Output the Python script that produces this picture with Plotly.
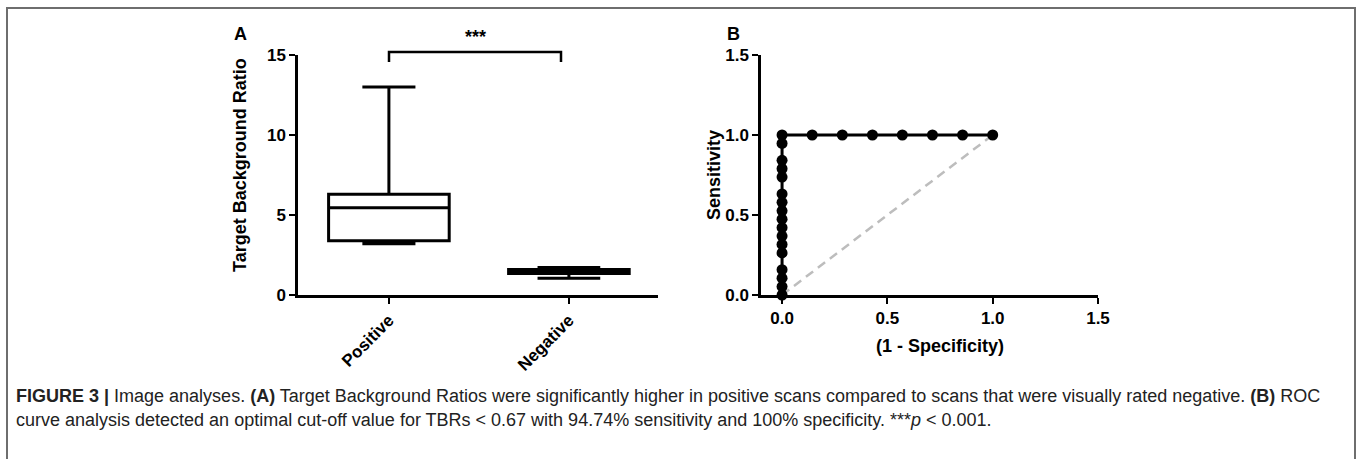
import plotly.graph_objects as go

# ---- data ----
groups = ["Positive", "Negative"]
q1 = [3.39, 1.34]
medians = [5.45, 1.45]
q3 = [6.3, 1.59]
lower_fence = [3.2, 1.04]
upper_fence = [13.0, 1.72]
whisker_widths = [0.44, 0.52]

roc_fpr = [0.0] * 17 + [0.143, 0.286, 0.429, 0.571, 0.714, 0.857, 1.0]
roc_tpr = [0.0, 0.053, 0.105, 0.158, 0.263, 0.316, 0.368, 0.421, 0.474, 0.526,
           0.579, 0.632, 0.737, 0.789, 0.842, 0.947, 1.0] + [1.0] * 7
ref_x = [0.0, 1.0]
ref_y = [0.0, 1.0]

yticks_a = [0, 5, 10, 15]
ticks_b = [0.0, 0.5, 1.0, 1.5]

W, H = 1357, 459
def px(x): return x / W
def py(y): return 1 - y / H

FONT = "Liberation Sans, Arial, sans-serif"

fig = go.Figure()
for i, g in enumerate(groups):
    fig.add_trace(go.Box(
        x=[g], q1=[q1[i]], median=[medians[i]], q3=[q3[i]],
        lowerfence=[lower_fence[i]], upperfence=[upper_fence[i]],
        width=0.67, whiskerwidth=whisker_widths[i],
        line=dict(color="black", width=3), fillcolor="white",
        boxpoints=False, showlegend=False, xaxis="x", yaxis="y"))

fig.add_trace(go.Scatter(x=ref_x, y=ref_y, mode="lines",
                         line=dict(color="#bdbdbd", width=2.5, dash="9px,6px"),
                         showlegend=False, xaxis="x2", yaxis="y2"))
fig.add_trace(go.Scatter(x=roc_fpr, y=roc_tpr, mode="lines+markers",
                         line=dict(color="black", width=3),
                         marker=dict(color="black", size=11),
                         cliponaxis=False, showlegend=False, xaxis="x2", yaxis="y2"))

tickfont = dict(family=FONT, size=17, color="black", weight="bold")
ydom = [py(295), py(55)]
axis_common = dict(showline=True, linecolor="black", linewidth=2.5, ticks="outside",
                   ticklen=6, tickwidth=2, tickcolor="black", showgrid=False,
                   zeroline=False, tickfont=tickfont, automargin=False)

fig.update_layout(
    template="none",
    width=W, height=H, margin=dict(l=0, r=0, t=0, b=0, pad=0), autosize=False,
    paper_bgcolor="white", plot_bgcolor="white",
    xaxis=dict(domain=[px(298), px(658)], anchor="y", type="category",
               categoryorder="array", categoryarray=groups,
               range=[-0.505, 1.495], tickangle=-45, **axis_common),
    yaxis=dict(domain=ydom, anchor="x", range=[0, 15], tickvals=yticks_a, **axis_common),
    xaxis2=dict(domain=[px(761), px(1098)], anchor="y2", range=[-0.1, 1.5],
                tickvals=ticks_b, tickformat=".1f", **axis_common),
    yaxis2=dict(domain=ydom, anchor="x2", range=[0, 1.5],
                tickvals=ticks_b, tickformat=".1f", **axis_common),
)

# significance bracket
fig.add_shape(type="path",
              path=f"M {px(389)} {py(62)} L {px(389)} {py(52)} L {px(561)} {py(52)} L {px(561)} {py(62)}",
              xref="paper", yref="paper", line=dict(color="black", width=2.5))

# outer frame
fig.add_shape(type="rect", xref="paper", yref="paper",
              x0=px(7), x1=px(1355), y0=-0.05, y1=py(8),
              line=dict(color="#6e6e6e", width=2))

title_font = dict(family=FONT, size=18, color="black", weight="bold")
ann = [
    dict(x=px(475), y=py(37), text="***", font=title_font),
    dict(x=px(240), y=py(34), text="A", font=title_font),
    dict(x=px(733), y=py(34), text="B", font=title_font),
    dict(x=px(240), y=py(165), text="Target Background Ratio", textangle=-90, font=title_font),
    dict(x=px(714), y=py(175), text="Sensitivity", textangle=-90, font=title_font),
    dict(x=px(940), y=py(346), text="(1 - Specificity)", font=title_font),
]
cap_font = dict(family=FONT, size=18, color="#222")
ann.append(dict(x=px(14), y=py(396), xanchor="left", font=cap_font,
                text="<b>FIGURE 3 |</b> Image analyses. <b>(A)</b> Target Background Ratios were significantly higher in positive scans compared to scans that were visually rated negative. <b>(B)</b> ROC"))
ann.append(dict(x=px(14), y=py(420), xanchor="left", font=cap_font,
                text="curve analysis detected an optimal cut-off value for TBRs &lt; 0.67 with 94.74% sensitivity and 100% specificity. ***<i>p</i> &lt; 0.001."))
for a in ann:
    a.setdefault("xref", "paper"); a.setdefault("yref", "paper")
    a.setdefault("xanchor", "center"); a.setdefault("yanchor", "middle")
    a.setdefault("showarrow", False)
    fig.add_annotation(**a)

fig.write_html("out.html", config={"displayModeBar": False, "responsive": False},
               post_script="document.body.style.margin='0';document.body.style.overflow='hidden';")
